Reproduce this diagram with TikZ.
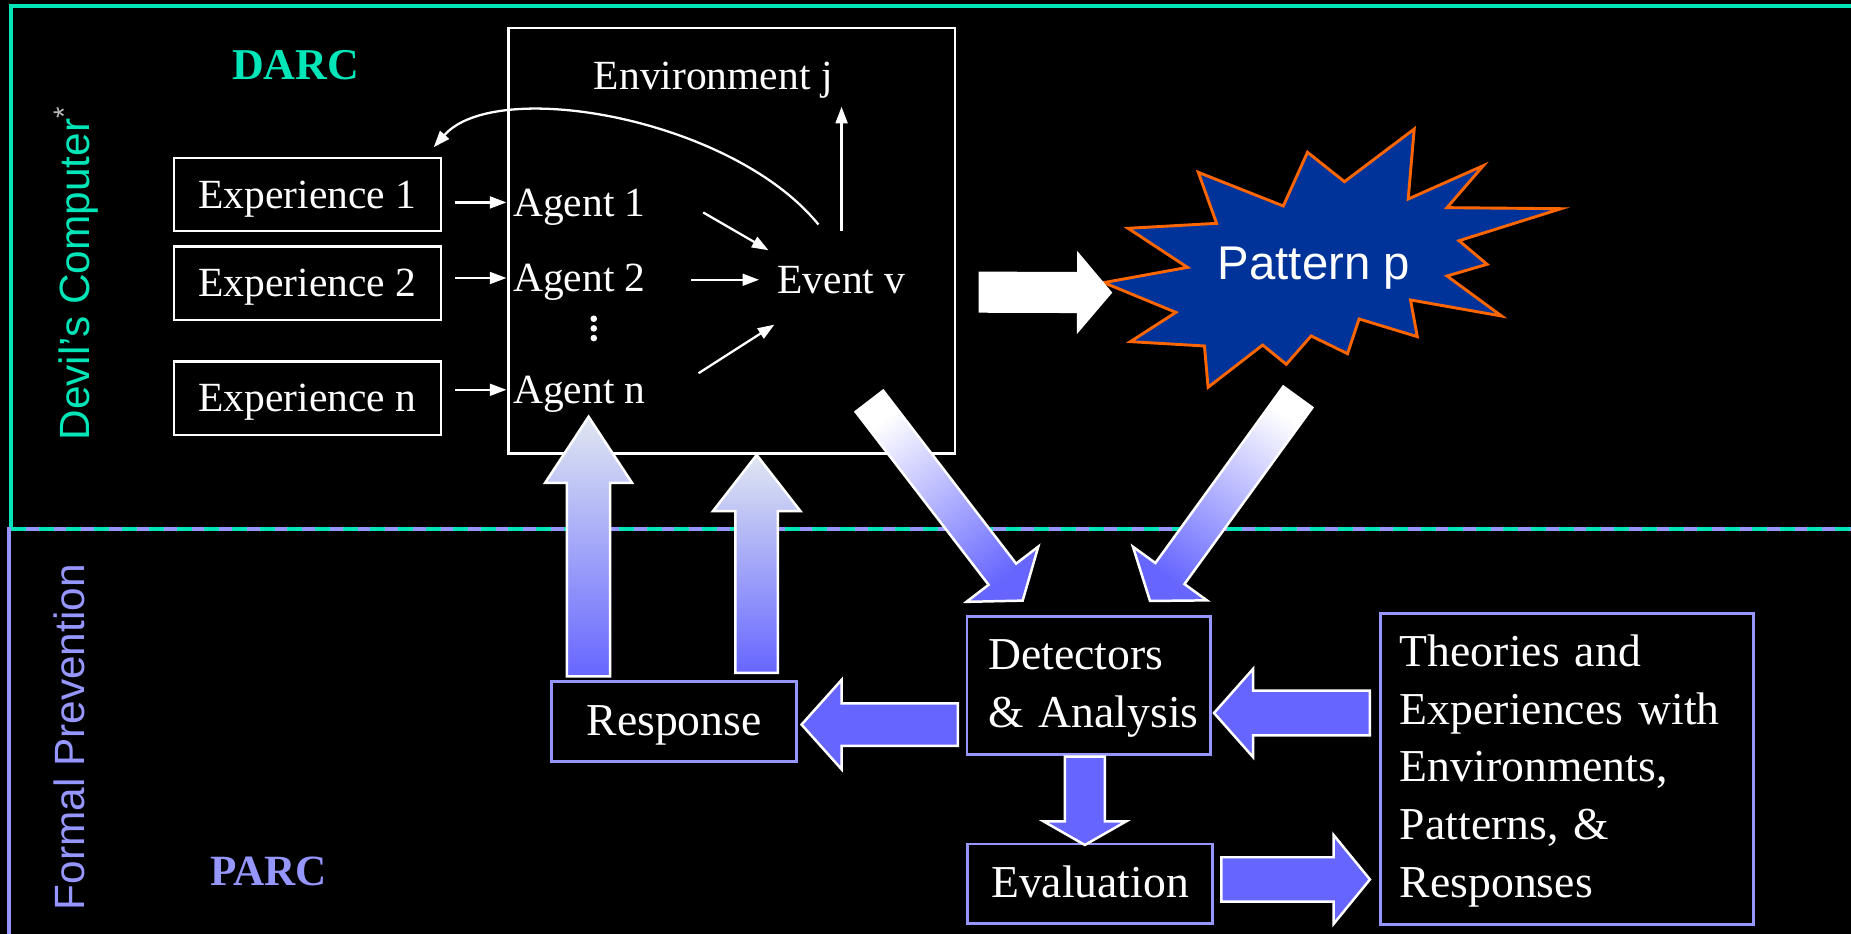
\documentclass[tikz,border=0pt]{standalone}
\usepackage{fontspec}
\setmainfont{Liberation Serif}
\setsansfont{Liberation Sans}
\usetikzlibrary{arrows.meta, calc}

\definecolor{darcclr}{RGB}{0,230,184}
\definecolor{parcclr}{RGB}{150,150,255}
\definecolor{arrblue}{RGB}{102,102,255}
\definecolor{palebl}{RGB}{224,231,241}
\definecolor{burstfill}{RGB}{0,51,153}
\definecolor{burstline}{RGB}{255,102,0}

\newcommand{\upfont}{\fontsize{10}{12}\selectfont}
\newcommand{\lowfont}{\fontsize{11}{13.9}\selectfont}
\newcommand{\sidefont}{\sffamily\fontsize{10.2}{12}\selectfont}

% block arrow: [style]{tail}{tip}{shaft half}{head half}{head length}
\newcommand{\blockarrow}[6][]{%
  \coordinate (bhead) at ($(#3)!#6!(#2)$);
  \path[#1] ($(#2)!#4!90:(#3)$) -- ($(bhead)!#4!90:(#3)$) -- ($(bhead)!#5!90:(#3)$)
    -- (#3) -- ($(bhead)!#5!-90:(#3)$) -- ($(bhead)!#4!-90:(#3)$)
    -- ($(#2)!#4!-90:(#3)$) -- cycle;}

\begin{document}
\begin{tikzpicture}[x=0.01cm, y=-0.01cm,
  every node/.style={inner sep=0pt, text=white},
  txt/.style={font=\upfont, text height=0.27cm, text depth=0.04cm},
  expbox/.style={txt, draw=white, line width=0.6pt, minimum width=2.26cm, minimum height=0.62cm},
  parcbox/.style={draw=parcclr, line width=0.7pt, font=\lowfont, text height=0.28cm, text depth=0.04cm},
  sarr/.style={white, line width=0.55pt, -{Triangle[length=0.14cm, width=0.1cm]}},
  blk/.style={fill=arrblue, draw=white, line width=0.6pt, line join=miter},
  upblk/.style={blk, top color=palebl, bottom color=arrblue},
  diagblk/.style={blk, top color=white, bottom color=arrblue},
  frame/.style={line width=0.9pt}]
  \fill[black] (0,0) rectangle (1568,791);
  \useasboundingbox (0,0) rectangle (1568,791);

  \draw[frame, darcclr] (1568,5) -- (9.3,5) -- (9.3,447.9);
  \draw[frame, parcclr] (7.9,791) -- (7.9,447.9) -- (1568,447.9);
  \draw[frame, darcclr, dash pattern=on 0.127cm off 0.107cm] (9.3,447.9) -- (1568,447.9);

  \node[font=\sidefont, text=darcclr, rotate=90, anchor=base] (devil) at (76.2,231)
    {Devil's Computer\textsuperscript{\color{gray!55!white}*}};
  \node[font=\sidefont, text=parcclr, rotate=90, anchor=base] (formal) at (71.8,624.5) {Formal Prevention};
  \node[font=\bfseries\fontsize{10.6}{12}\selectfont, text=darcclr, anchor=base] (darc) at (250.5,67.2) {DARC};
  \node[font=\bfseries\fontsize{10.4}{12}\selectfont, text=parcclr, anchor=base] (parc) at (227.5,749.7) {PARC};

  \node[draw=white, line width=0.6pt, minimum width=3.78cm, minimum height=3.6cm] (env) at (620,204) {};
  \node[txt, anchor=base west] (envj) at (502.4,75.7) {Environment j};

  \node[expbox] (exp1) at (260.3,164.8) {Experience 1};
  \node[expbox] (exp2) at (260.5,240) {Experience 2};
  \node[expbox] (expn) at (260.5,337.3) {Experience n};

  \node[txt, anchor=base west] (ag1) at (434,183) {Agent 1};
  \node[txt, anchor=base west] (ag2) at (434,247) {Agent 2};
  \node[txt, anchor=base west] (agn) at (434,341.7) {Agent n};
  \node[txt, anchor=base west] (ev) at (658,248.5) {Event v};
  \fill[white] (503,270) circle[radius=2.8] (503,278.2) circle[radius=2.8] (503,286.4) circle[radius=2.8];

  \draw[sarr, shorten <=0.11cm, shorten >=0.05cm] (exp1.east |- ag1.west) -- (ag1.west);
  \draw[sarr, shorten <=0.11cm, shorten >=0.05cm] (exp2.east |- ag2.west) -- (ag2.west);
  \draw[sarr, shorten <=0.11cm, shorten >=0.05cm] (expn.east |- agn.west) -- (agn.west);
  \draw[sarr] ([shift={(48,8.5)}]ag1.east) -- ([shift={(-7,-25)}]ev.west);
  \draw[sarr, shorten <=0.38cm, shorten >=0.15cm] (ag2.east |- ev.west) -- (ev.west);
  \draw[sarr] ([shift={(44,-14)}]agn.east) -- ([shift={(-2,38)}]ev.west);
  \draw[sarr, shorten <=0.255cm, shorten >=0.1cm] (ev.north) -- (ev.north |- envj.south);
  \draw[sarr] ([shift={(-19.6,-30.6)}]ev.north) .. controls (620,100) and (420,65) .. ([shift={(-7,-8)}]exp1.north east);

  \draw[fill=burstfill, draw=burstline, line width=0.7pt, line join=miter]
    (1198,109.3) -- (1192.9,168.6) -- (1256.6,140.3) -- (1225.8,175.9) -- (1322.3,176.8)
    -- (1236,203.9) -- (1259.7,223.9) -- (1225.8,233.8) -- (1272,267.7) -- (1194.9,254.1)
    -- (1200.6,285.2) -- (1151.3,270.2) -- (1141.5,299.6) -- (1110.7,284.6) -- (1089.6,308.6)
    -- (1069.6,292.3) -- (1023.4,328.1) -- (1020.3,293.1) -- (957.6,289.4) -- (996.1,264.6)
    -- (935,239.4) -- (1005.9,226.5) -- (955.6,193.4) -- (1030.6,189.2) -- (1015.1,146)
    -- (1087.1,174.5) -- (1107.6,129) -- (1138.9,153.9) -- cycle;
  \node[font=\sffamily\fontsize{11.4}{13}\selectfont, anchor=base] (pat) at (1113,236.6) {Pattern p};

  \node[parcbox, minimum width=2.08cm, minimum height=0.678cm] (resp) at (571,611.3) {Response};
  \node[parcbox, minimum width=2.08cm, minimum height=0.67cm] (eval) at (923.4,748.5) {Evaluation};
  \node[parcbox, anchor=north west, align=left, text width=1.707cm, inner xsep=0.179cm,
    text height=0.452cm, text depth=0.718cm] (det) at (817.9,521) {Detectors\\\mbox{\& Analysis}};
  \node[parcbox, anchor=north west, align=left, text width=2.826cm, inner xsep=0.167cm,
    text height=0.446cm, text depth=2.183cm] (theo) at (1168,518.7)
    {Theories and\\Experiences with\\Environments,\\Patterns, \&\\Responses};

  \coordinate (wa1) at (829,247.5); \coordinate (wa2) at (942.2,247.9);
  \blockarrow[fill=white]{wa1}{wa2}{0.174cm}{0.352cm}{0.298cm}
  \coordinate (da1) at (736.5,339.9); \coordinate (da2) at (866.3,508.8);
  \blockarrow[diagblk, shading angle=37.55]{da1}{da2}{0.147cm}{0.384cm}{0.282cm}
  \coordinate (db1) at (1099.4,336.4); \coordinate (db2) at (974.2,509.1);
  \blockarrow[diagblk, shading angle=-35.94]{db1}{db2}{0.152cm}{0.387cm}{0.287cm}
  \coordinate (ua1) at (498.6,573); \coordinate (ua2) at (498.6,353);
  \blockarrow[upblk]{ua1}{ua2}{0.183cm}{0.368cm}{0.56cm}
  \coordinate (ub1) at (641,570); \coordinate (ub2) at (641,385.4);
  \blockarrow[upblk]{ub1}{ub2}{0.18cm}{0.37cm}{0.475cm}
  \coordinate (dr1) at (811.4,613.8); \coordinate (dr2) at (679,613.8);
  \blockarrow[blk]{dr1}{dr2}{0.18cm}{0.38cm}{0.34cm}
  \coordinate (td1) at (1160.5,604); \coordinate (td2) at (1028.4,604);
  \blockarrow[blk]{td1}{td2}{0.19cm}{0.374cm}{0.331cm}
  \coordinate (de1) at (919,641); \coordinate (de2) at (919,715.8);
  \blockarrow[blk]{de1}{de2}{0.17cm}{0.35cm}{0.2cm}
  \coordinate (et1) at (1034.7,745); \coordinate (et2) at (1160.5,745);
  \blockarrow[blk]{et1}{et2}{0.188cm}{0.377cm}{0.308cm}
\end{tikzpicture}
\end{document}
